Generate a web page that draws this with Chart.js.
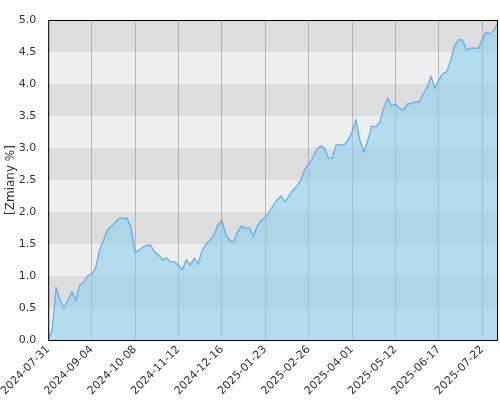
<!DOCTYPE html>
<html><head><meta charset="utf-8">
<script src="https://cdn.jsdelivr.net/npm/chart.js@4"></script>
<style>body{margin:0;background:#fff}#w{width:500px;height:400px}</style>
</head><body><div id="w"><canvas id="c"></canvas></div>
<script>
const tickLabels=["2024-07-31","2024-09-04","2024-10-08","2024-11-12","2024-12-16","2025-01-23","2025-02-26","2025-04-01","2025-05-12","2025-06-17","2025-07-22"];
const tickStep=11;
const values=[0,0.16,0.81,0.62,0.5,0.62,0.75,0.62,0.86,0.9,1.0,1.03,1.12,1.4,1.56,1.72,1.78,1.84,1.9,1.9,1.9,1.75,1.37,1.4,1.45,1.48,1.48,1.37,1.33,1.25,1.28,1.22,1.22,1.17,1.1,1.25,1.17,1.28,1.19,1.4,1.5,1.56,1.64,1.8,1.87,1.65,1.56,1.53,1.69,1.78,1.75,1.75,1.62,1.78,1.87,1.9,2.0,2.1,2.19,2.25,2.16,2.25,2.34,2.4,2.5,2.66,2.75,2.84,2.97,3.03,3.0,2.84,2.84,3.05,3.05,3.05,3.12,3.25,3.44,3.12,2.94,3.12,3.34,3.33,3.4,3.62,3.78,3.66,3.69,3.62,3.59,3.69,3.69,3.72,3.72,3.84,3.94,4.12,3.94,4.06,4.16,4.19,4.37,4.6,4.69,4.69,4.53,4.56,4.56,4.56,4.69,4.81,4.78,4.84,4.97];
const bands={id:'bands',beforeDraw(ch){const {ctx,chartArea:a,scales:{y}}=ch;ctx.save();
for(let v=0;v<5;v+=0.5){const i=Math.round(v*2);ctx.fillStyle=i%2?'#dddddd':'#eeeeee';const t=y.getPixelForValue(v+0.5),b=y.getPixelForValue(v);ctx.fillRect(a.left,t,a.right-a.left,b-t);}
ctx.restore();},afterDraw(ch){const {ctx,chartArea:a}=ch;ctx.save();ctx.strokeStyle='#000';ctx.lineWidth=1;ctx.strokeRect(a.left+0.5,a.top+0.5,a.right-a.left-1,a.bottom-a.top);ctx.restore();}};
new Chart(document.getElementById('c'),{type:'line',
data:{datasets:[{data:values.map((v,i)=>({x:i,y:v})),borderColor:'#5aa9ee',borderWidth:1.2,backgroundColor:'rgba(135,206,235,0.55)',fill:'origin',pointRadius:0,tension:0}]},
options:{responsive:true,maintainAspectRatio:false,animation:false,layout:{padding:{top:20,right:2,left:0,bottom:0}},
plugins:{legend:{display:false},tooltip:{enabled:false}},
scales:{x:{type:'linear',min:0,max:values.length-1,afterBuildTicks(s){s.ticks=tickLabels.map((l,i)=>({value:i*tickStep}));},
ticks:{autoSkip:false,maxRotation:45,minRotation:45,color:'#333',font:{size:11,family:'DejaVu Sans'},callback:(v)=>tickLabels[v/tickStep]},
grid:{color:'rgba(150,150,150,0.6)',drawTicks:false},border:{display:false},afterFit(s){s.height=60;}},
y:{min:0,max:5,ticks:{stepSize:0.5,color:'#333',font:{size:11,family:'DejaVu Sans'},callback:v=>v.toFixed(1),padding:4},grid:{display:false},border:{display:false},
title:{display:true,text:'[Zmiany %]',color:'#333',font:{size:12,family:'DejaVu Sans'},padding:0},afterFit(s){s.width=45;}}}},
plugins:[bands]});
</script></body></html>
